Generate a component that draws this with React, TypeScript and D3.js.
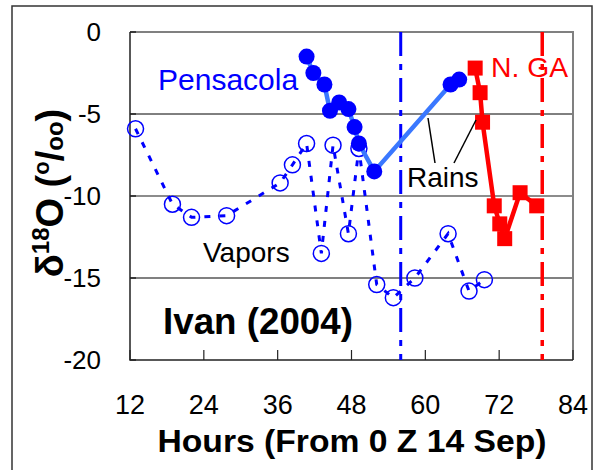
import * as d3 from 'd3';

// hurricane Ivan (2004) - d18O of rains and vapors vs hours
const xTicks = [12, 24, 36, 48, 60, 72, 84];
const yTicks = [0, -5, -10, -15, -20];

// Pensacola rains
const pensHours = [40.7, 41.8, 43.6, 44.5, 46.0, 47.5, 48.5, 49.2, 51.7, 64.1, 65.5];
const pensD18O = [-1.5, -2.5, -3.2, -4.8, -4.3, -4.7, -5.8, -6.8, -8.5, -3.2, -2.9];

// N. GA rains
const gaHours = [68.1, 68.9, 69.3, 71.2, 72.1, 72.9, 75.4, 78.1];
const gaD18O = [-2.2, -3.7, -5.5, -10.6, -11.7, -12.6, -9.8, -10.6];

// vapors
const vapHours = [12.9, 18.9, 22.0, 27.7, 36.4, 38.4, 40.7, 43.1, 45.0, 47.5, 49.2, 52.1, 54.8, 58.3, 63.7, 67.1, 69.6];
const vapD18O = [-5.9, -10.5, -11.3, -11.2, -9.2, -8.1, -6.8, -13.5, -6.9, -12.3, -7.1, -15.4, -16.2, -15.0, -12.3, -15.8, -15.1];

// landfall marker lines
const pensLandfall = 56;
const gaLandfall = 79;

const FONT = 'Arial, "Liberation Sans", sans-serif';

export default function App() {
  const left = 130, right = 573, top = 32, bottom = 360;
  const x = d3.scaleLinear().domain([12, 84]).range([left, right]);
  const y = d3.scaleLinear().domain([0, -20]).range([top, bottom]);

  const line = d3.line<[number, number]>().x(d => x(d[0])).y(d => y(d[1]));
  const pens = pensHours.map((h, i) => [h, pensD18O[i]] as [number, number]);
  const ga = gaHours.map((h, i) => [h, gaD18O[i]] as [number, number]);
  const vap = vapHours.map((h, i) => [h, vapD18O[i]] as [number, number]);

  const gridStyle: Record<number, { c: string; w: number }> = {
    [-5]: { c: '#000', w: 1 },
    [-10]: { c: '#666', w: 1.5 },
    [-15]: { c: '#808080', w: 2 },
  };

  return (
    <svg width={596} height={470} style={{ position: 'absolute', left: 0, top: 0 }} fontFamily={FONT}>
      <rect x={0} y={0} width={596} height={470} fill="#fff" />
      {/* outer frame */}
      <rect x={12} y={6} width={580} height={480} fill="none" stroke="#333" strokeWidth={1.5} />

      {/* grid */}
      {[-5, -10, -15].map(v => (
        <line key={v} x1={left} x2={right} y1={y(v)} y2={y(v)} stroke={gridStyle[v].c} strokeWidth={gridStyle[v].w} />
      ))}
      {/* plot frame: top/right gray */}
      <path d={`M${left},${top}H${right}V${bottom}`} fill="none" stroke="#808080" strokeWidth={2} />
      {/* axes */}
      <path d={`M${left},${top}V${bottom}H${right}`} fill="none" stroke="#222" strokeWidth={1.5} />
      {xTicks.map(t => (
        <g key={t}>
          <line x1={x(t)} x2={x(t)} y1={bottom} y2={bottom - 10} stroke="#222" strokeWidth={1.2} />
          <text x={x(t)} y={414} fontSize={27} textAnchor="middle" fill="#000">{t}</text>
        </g>
      ))}
      {yTicks.map(t => (
        <g key={t}>
          <line x1={left} x2={left + 6} y1={y(t)} y2={y(t)} stroke="#222" strokeWidth={1.5} />
          <text x={101} y={y(t) + 9} fontSize={26} textAnchor="end" fill="#000">{t}</text>
        </g>
      ))}

      {/* landfall lines */}
      <line x1={x(pensLandfall)} x2={x(pensLandfall)} y1={top} y2={bottom} stroke="#0000ff" strokeWidth={3} strokeDasharray="24,8,6,8" />
      <line x1={x(gaLandfall)} x2={x(gaLandfall)} y1={top} y2={bottom} stroke="#ff0000" strokeWidth={3.5} strokeDasharray="24,8,6,8" />

      {/* vapors */}
      <path d={line(vap) ?? ''} fill="none" stroke="#0000ff" strokeWidth={3} strokeDasharray="6,9" />
      {vap.map((d, i) => (
        <circle key={i} cx={x(d[0])} cy={y(d[1])} r={8} fill="none" stroke="#0000ff" strokeWidth={1.5} />
      ))}

      {/* Pensacola rains */}
      <path d={line(pens) ?? ''} fill="none" stroke="#3a78ff" strokeWidth={4.5} />
      {pens.map((d, i) => (
        <circle key={i} cx={x(d[0])} cy={y(d[1])} r={8} fill="#0000ff" />
      ))}

      {/* N. GA rains */}
      <path d={line(ga) ?? ''} fill="none" stroke="#ff0000" strokeWidth={4.5} />
      {ga.map((d, i) => (
        <rect key={i} x={x(d[0]) - 7.5} y={y(d[1]) - 7.5} width={15} height={15} fill="#ff0000" />
      ))}

      {/* labels */}
      <text x={158} y={90} fontSize={30} fill="#0000ff">Pensacola</text>
      <text x={491} y={77} fontSize={28} fill="#ff0000" textLength={77} lengthAdjust="spacingAndGlyphs">N. GA</text>
      <text x={203} y={262} fontSize={28} fill="#000">Vapors</text>
      <text x={407} y={187} fontSize={28} fill="#000">Rains</text>
      <line x1={435} y1={163} x2={428} y2={118} stroke="#000" strokeWidth={1.5} />
      <line x1={454} y1={163} x2={476} y2={120} stroke="#000" strokeWidth={1.5} />
      <text x={163} y={334} fontSize={37} fontWeight="bold" fill="#000" textLength={190} lengthAdjust="spacingAndGlyphs">Ivan (2004)</text>

      {/* axis titles */}
      <text x={352} y={452} fontSize={31} fontWeight="bold" textAnchor="middle" fill="#000" textLength={389} lengthAdjust="spacingAndGlyphs">Hours (From 0 Z 14 Sep)</text>
      <text transform="translate(63,193) rotate(-90)" fontSize={38} fontWeight="bold" textAnchor="middle" fill="#000">
        δ<tspan fontSize={24} dy={-14}>18</tspan><tspan dy={14}>O (</tspan><tspan fontSize={22} dy={-14}>o</tspan><tspan dy={14}>/</tspan><tspan fontSize={24}>oo</tspan>)
      </text>
    </svg>
  );
}
